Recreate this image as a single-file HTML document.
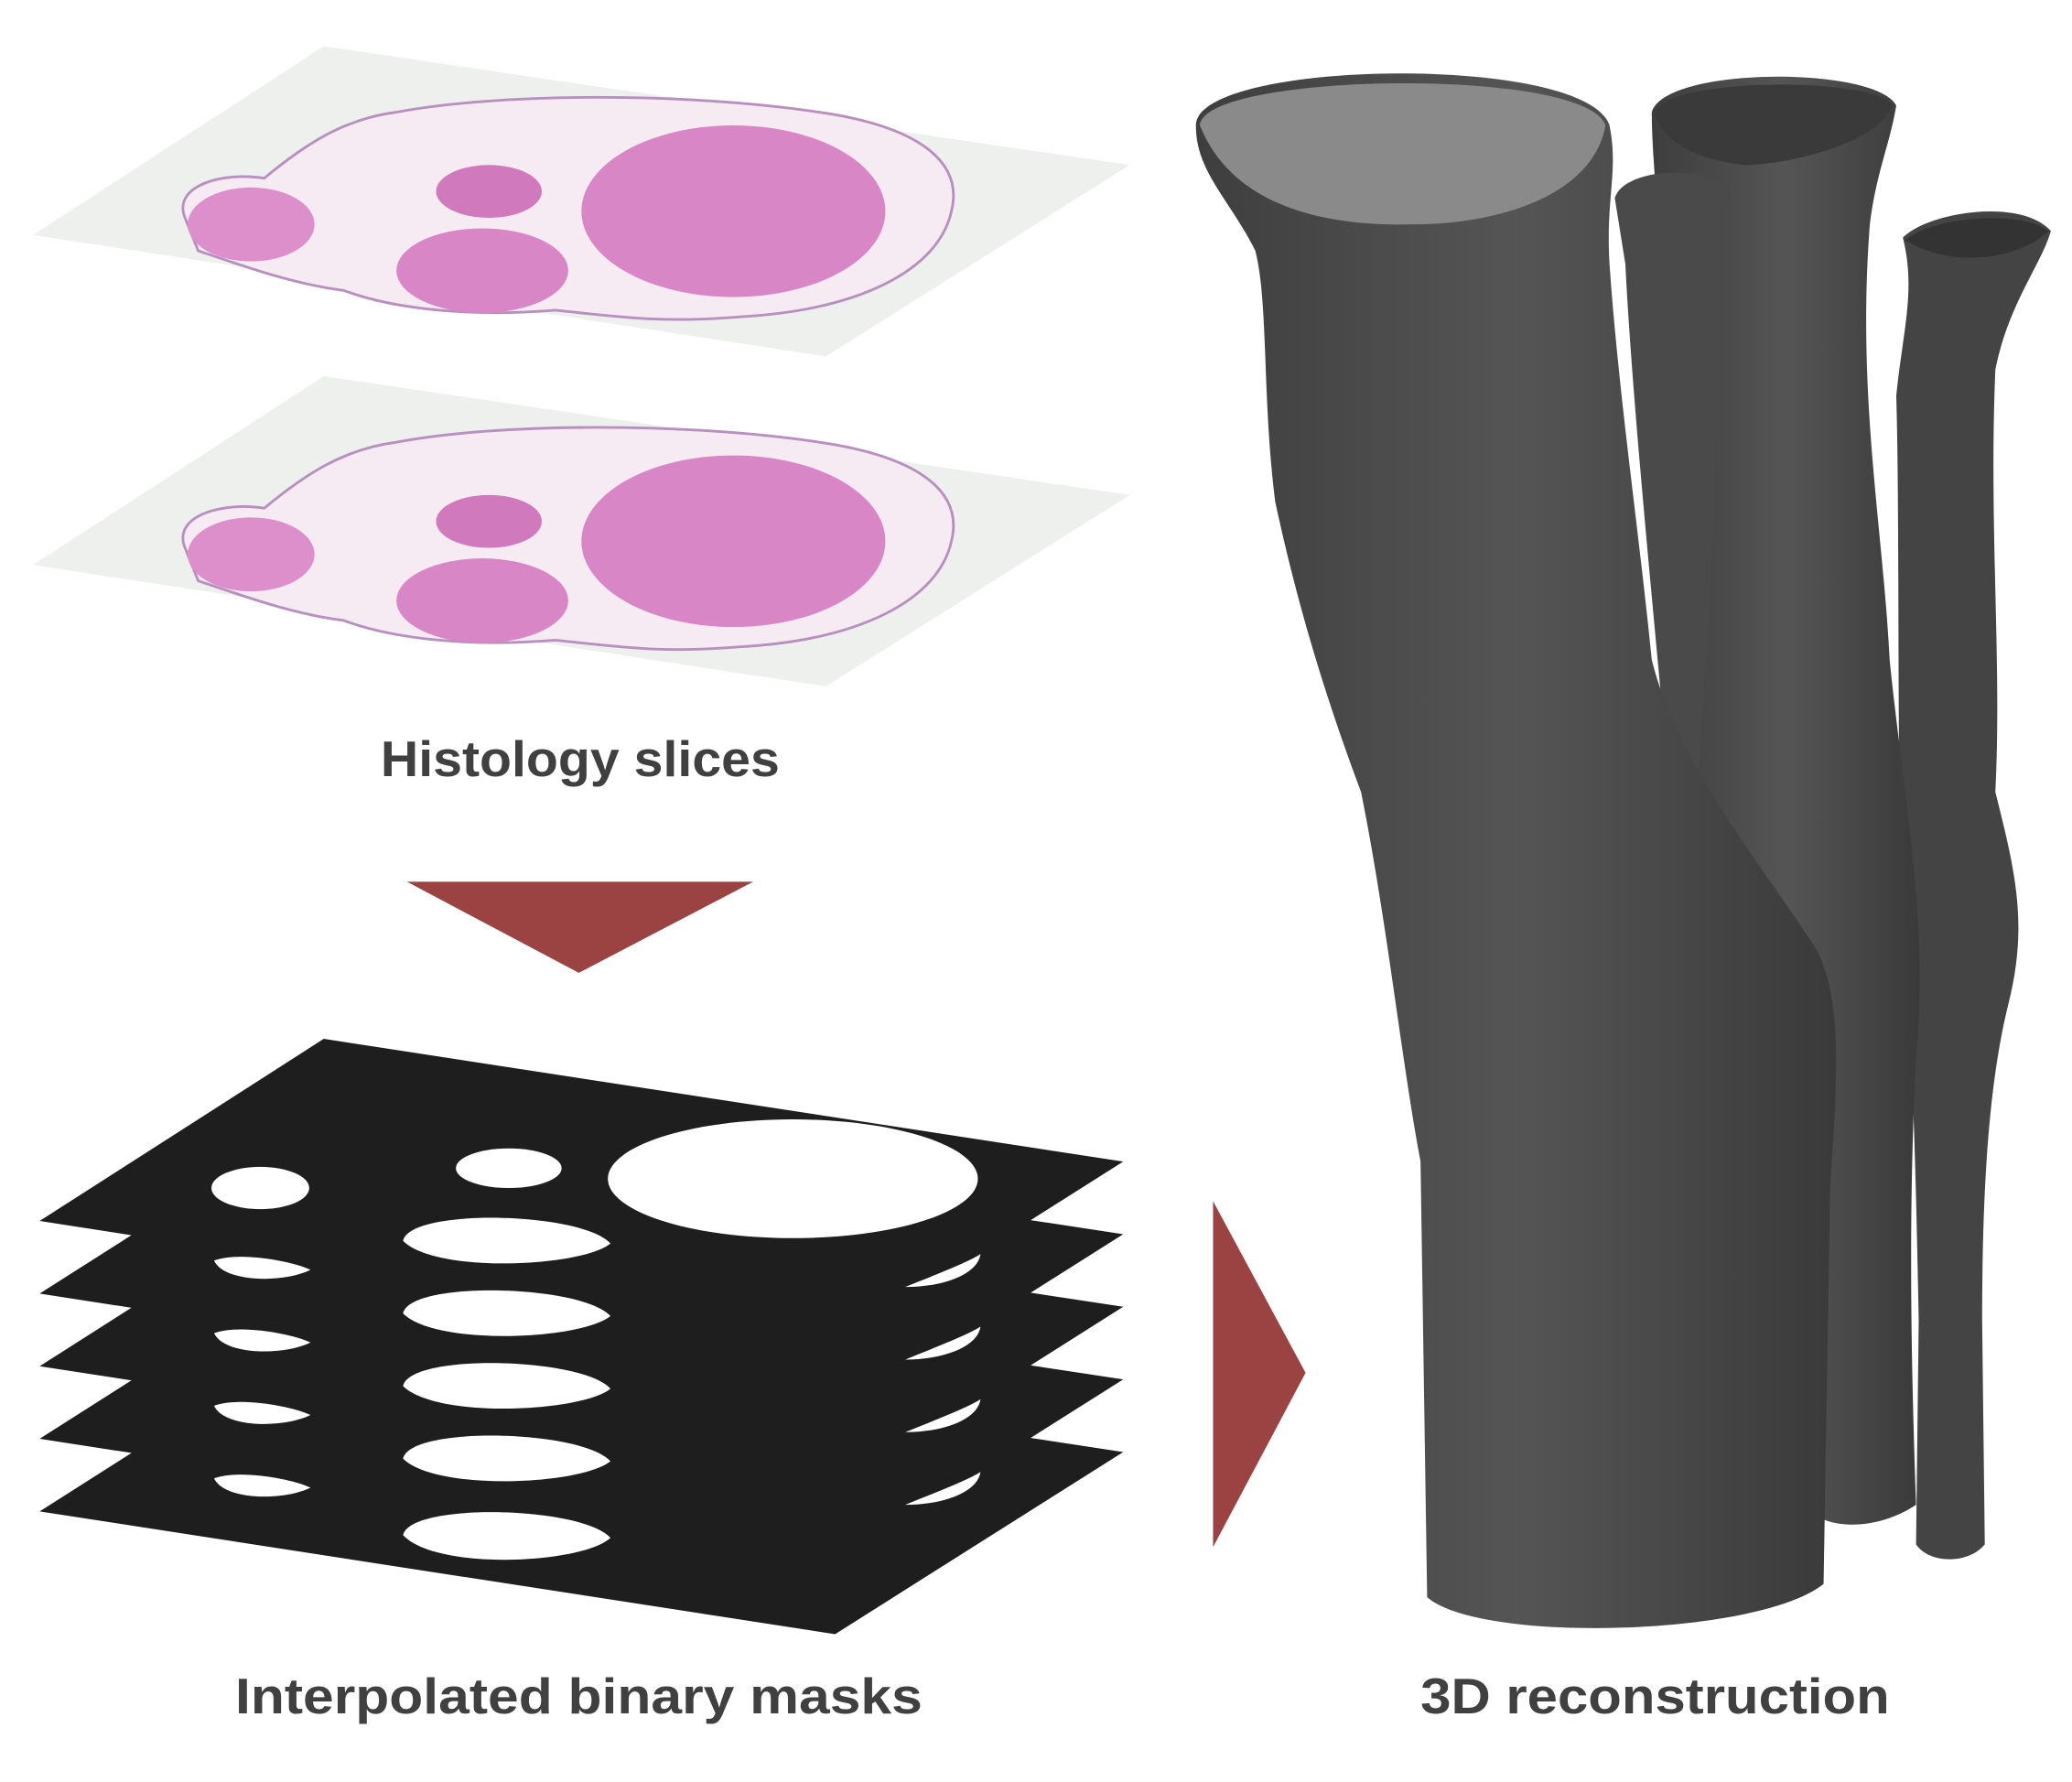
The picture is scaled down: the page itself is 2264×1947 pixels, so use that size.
<!DOCTYPE html>
<html><head><meta charset="utf-8"><style>
html,body{margin:0;padding:0;background:#fff;width:2264px;height:1947px;overflow:hidden}
svg{display:block}
</style></head><body>
<svg width="2264" height="1947" viewBox="0 0 1568 1350" preserveAspectRatio="none" xmlns="http://www.w3.org/2000/svg">
<defs>
<linearGradient id="tg" x1="0" x2="1" y1="0" y2="0">
<stop offset="0" stop-color="#3e3e3e"/><stop offset="0.5" stop-color="#555"/><stop offset="1" stop-color="#3a3a3a"/>
</linearGradient>
</defs>
<!-- histology slides -->
<g id="slide">
<polygon points="25,178 245,35 855,125 625,270" fill="#eef0ee"/>
<path d="M140,165 C130,140 170,130 200,135 C230,110 260,90 300,85 C380,70 520,70 620,85 C690,95 730,120 720,160 C710,205 650,235 560,240 C500,245 470,240 420,235 C360,240 300,235 260,220 C220,215 180,200 150,190 Z" fill="#f6eaf3" stroke="#b890c0" stroke-width="2"/>
<ellipse cx="555" cy="160" rx="115" ry="65" fill="#d886c6"/>
<ellipse cx="370" cy="145" rx="40" ry="20" fill="#d07abd"/>
<ellipse cx="365" cy="205" rx="65" ry="32" fill="#d886c6"/>
<ellipse cx="190" cy="170" rx="48" ry="28" fill="#dd8fcb"/>
</g>
<use href="#slide" transform="translate(0,250)"/>
<text x="288" y="588" textLength="302" lengthAdjust="spacingAndGlyphs" font-family="Liberation Sans, sans-serif" font-weight="bold" font-size="38" fill="#404040">Histology slices</text>
<polygon points="308,668 570,668 438,737" fill="#9b4242"/>
<!-- mask stack -->
<g fill="#1e1e1e">
<polygon points="30,1145 245,1008 850,1100 632,1238"/>
<polygon points="30,1090 245,953 850,1045 632,1183"/>
<polygon points="30,1035 245,898 850,990 632,1128"/>
<polygon points="30,980 245,843 850,935 632,1073"/>
<polygon points="30,925 245,787 850,880 632,1018"/>
</g>
<g fill="#fff">
<ellipse cx="197" cy="900" rx="37" ry="16"/>
<ellipse cx="385" cy="885" rx="40" ry="15"/>
<ellipse cx="600" cy="893" rx="140" ry="45"/>
<path d="M305,940 C310,915 440,918 462,942 C440,960 330,965 305,940Z"/>
<path d="M305,995 C310,970 440,973 462,997 C440,1015 330,1020 305,995Z"/>
<path d="M305,1050 C310,1025 440,1028 462,1052 C440,1070 330,1075 305,1050Z"/>
<path d="M305,1105 C310,1080 440,1083 462,1107 C440,1125 330,1130 305,1105Z"/>
<path d="M305,1163 C310,1138 440,1141 462,1165 C440,1185 330,1190 305,1163Z"/>
<path d="M162,955 C180,948 220,955 235,962 C215,972 170,972 162,955Z"/>
<path d="M162,1010 C180,1003 220,1010 235,1017 C215,1027 170,1027 162,1010Z"/>
<path d="M162,1065 C180,1058 220,1065 235,1072 C215,1082 170,1082 162,1065Z"/>
<path d="M162,1120 C180,1113 220,1120 235,1127 C215,1137 170,1137 162,1120Z"/>
<path d="M685,975 C710,965 735,955 742,950 C740,965 715,975 685,975Z"/>
<path d="M685,1030 C710,1020 735,1010 742,1005 C740,1020 715,1030 685,1030Z"/>
<path d="M685,1085 C710,1075 735,1065 742,1060 C740,1075 715,1085 685,1085Z"/>
<path d="M685,1140 C710,1130 735,1120 742,1115 C740,1130 715,1140 685,1140Z"/>
</g>
<text x="178" y="1298" textLength="520" lengthAdjust="spacingAndGlyphs" font-family="Liberation Sans, sans-serif" font-weight="bold" font-size="38" fill="#404040">Interpolated binary masks</text>
<polygon points="918,910 988,1040 918,1172" fill="#9b4242"/>
<!-- 3D tubes -->
<path d="M1440,180 C1460,160 1530,150 1552,175 C1545,200 1520,230 1510,280 C1505,400 1515,500 1510,600 C1525,660 1535,700 1520,760 C1505,820 1500,900 1500,1000 L1502,1170 C1490,1185 1460,1185 1450,1170 L1452,1000 C1450,900 1448,800 1440,700 C1435,600 1438,400 1435,300 C1440,250 1450,220 1440,180Z" fill="#444"/>
<path d="M1250,85 C1260,50 1420,50 1435,80 C1430,110 1420,130 1415,170 C1405,300 1425,400 1430,500 C1440,600 1460,700 1450,800 C1445,900 1445,1000 1450,1140 C1420,1160 1380,1160 1365,1140 L1360,900 C1340,800 1300,700 1285,600 C1260,450 1250,300 1255,200 C1255,150 1250,120 1250,85Z" fill="url(#tg)"/>
<path d="M1222,150 C1230,125 1300,125 1310,145 C1300,170 1300,200 1300,260 C1300,400 1290,500 1285,600 L1260,560 C1250,450 1235,300 1230,200 Z" fill="#4a4a4a"/>
<path d="M905,95 C905,45 1200,40 1218,95 C1225,130 1215,150 1218,200 C1225,300 1240,400 1250,500 C1270,580 1330,650 1375,720 C1395,760 1390,820 1385,900 L1380,1200 C1330,1240 1120,1245 1080,1210 L1075,880 C1060,800 1050,700 1030,600 C1000,520 980,450 965,380 C955,300 960,230 950,190 C930,150 905,130 905,95Z" fill="url(#tg)"/>
<path d="M908,95 C910,55 1200,50 1215,95 C1205,150 1130,170 1070,170 C990,172 930,150 908,95Z" fill="#8a8a8a"/>
<path d="M1252,85 C1262,58 1420,58 1432,80 C1420,110 1350,125 1320,125 C1290,122 1258,110 1252,85Z" fill="#3a3a3a"/>
<path d="M1442,182 C1460,165 1528,158 1550,175 C1530,195 1480,205 1442,182Z" fill="#333"/>
<text x="1075" y="1298" textLength="355" lengthAdjust="spacingAndGlyphs" font-family="Liberation Sans, sans-serif" font-weight="bold" font-size="38" fill="#404040">3D reconstruction</text>
</svg>
</body></html>
